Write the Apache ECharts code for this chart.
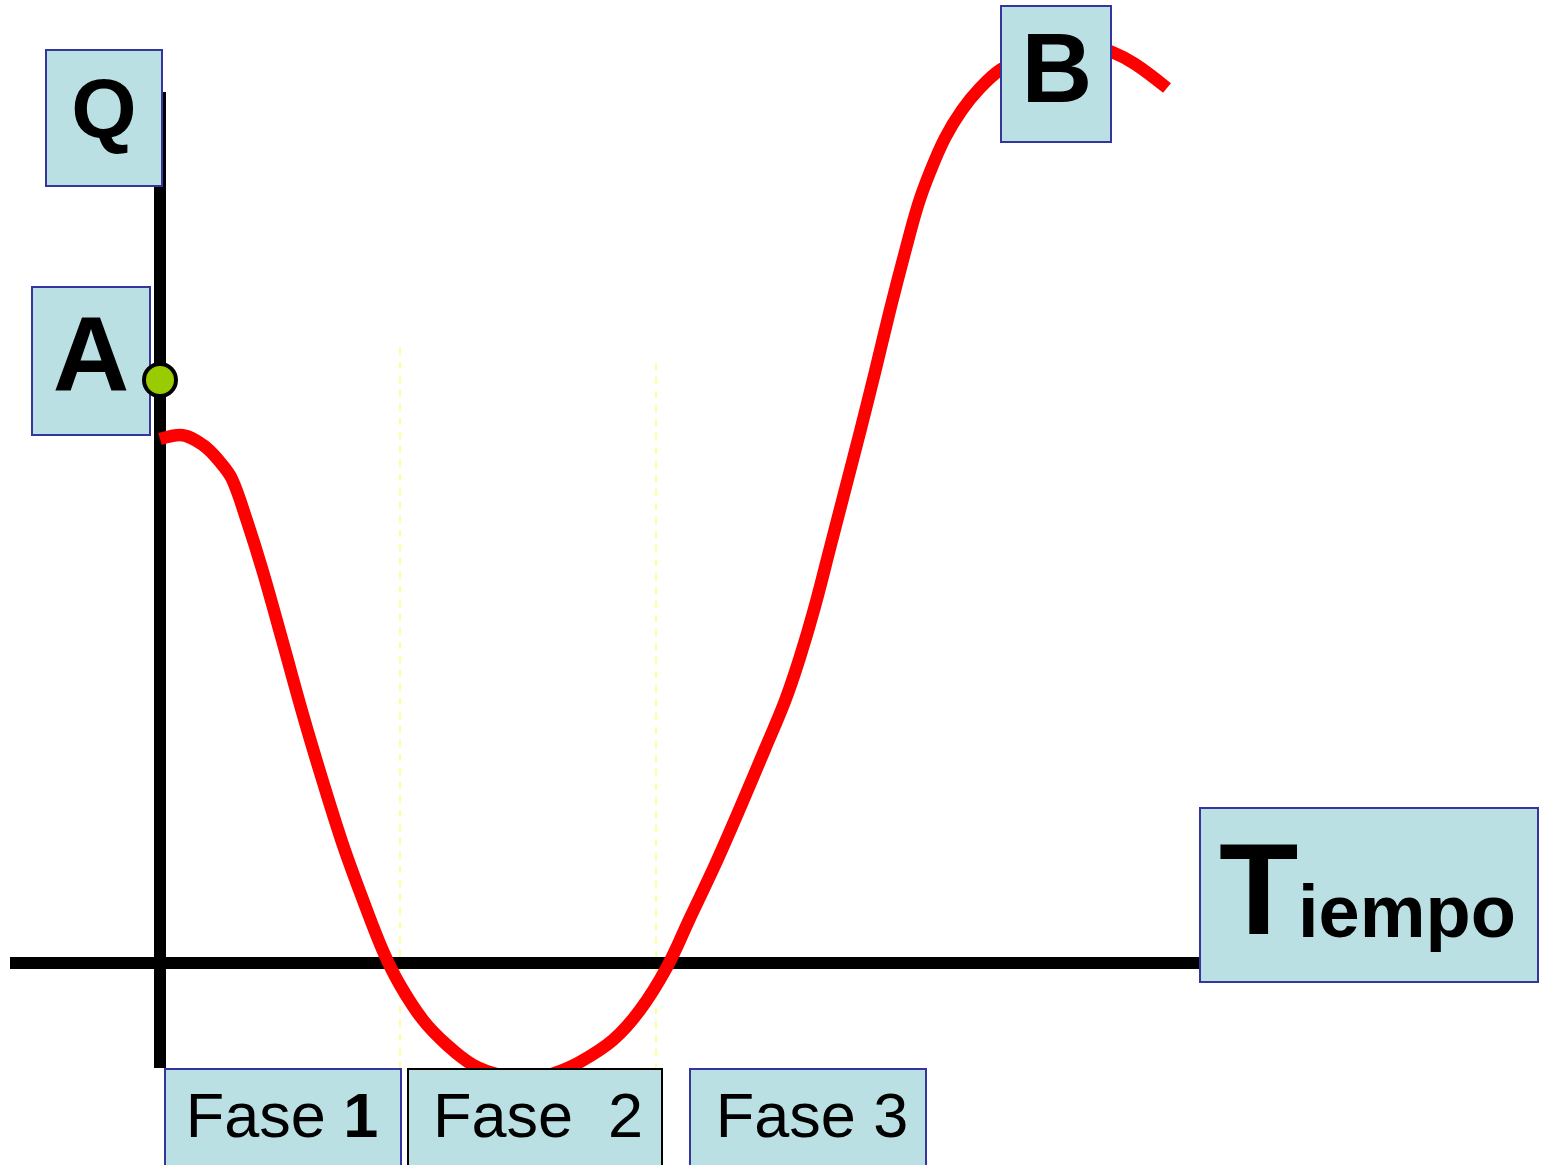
<!DOCTYPE html>
<html>
<head>
<meta charset="utf-8">
<script src="https://cdn.jsdelivr.net/npm/echarts@6/dist/echarts.min.js"></script>
<style>
  html, body { margin: 0; padding: 0; background: #fff; }
  #main { width: 1542px; height: 1165px; }
</style>
</head>
<body>
<div id="main"></div>
<script>
// curva Q(t) (t = tiempo, Q = cantidad)
const curveT = [0.00, 0.20, 0.43, 0.60, 0.72, 0.87, 1.03, 1.23, 1.43, 1.63, 1.83, 2.03, 2.23, 2.40, 2.63,
  2.87, 3.13, 3.40, 3.70, 3.95, 4.20, 4.53, 4.80, 5.07, 5.30, 5.55, 5.80, 6.05, 6.25, 6.40,
  6.55, 6.70, 6.85, 7.00, 7.15, 7.30, 7.45, 7.58, 7.70, 7.85, 8.02, 8.20, 8.40, 8.70,
  9.00, 9.30, 9.52, 9.75, 10.07];
const curveQ = [5.24, 5.28, 5.18, 5.01, 4.84, 4.42, 3.91, 3.20, 2.48, 1.81, 1.18, 0.63, 0.12, -0.22, -0.57,
  -0.82, -1.02, -1.12, -1.16, -1.10, -0.99, -0.77, -0.47, -0.04, 0.45, 0.98, 1.55, 2.14, 2.62, 3.06,
  3.57, 4.15, 4.73, 5.31, 5.91, 6.53, 7.11, 7.58, 7.91, 8.25, 8.53, 8.75, 8.93, 9.08,
  9.15, 9.17, 9.11, 8.99, 8.75];

// punto A
const pointA = [0, 5.83];

// ejes dibujados
const qAxisEnds = [8.71, -1.05];   // Q en t = 0
const tAxisEnds = [-1.5, 10.4];    // t en Q = 0

// limites de fase (lineas punteadas)
const phaseBounds = [2.40, 4.96];
const phaseTops = [6.15, 6.00];
const phaseBottom = -1.05;

const phaseLabels = ['{a|Fase }{b|1}', 'Fase  2', 'Fase 3'];

const curveData = curveT.map((t, i) => [t, curveQ[i]]);

const boxFill = '#BBE0E3';
const boxStroke = '#35359E';

function box(x, y, w, h, stroke) {
  return {
    type: 'rect', z: 100,
    shape: { x: x, y: y, width: w, height: h },
    style: { fill: boxFill, stroke: stroke || boxStroke, lineWidth: 2 }
  };
}
function label(text, x, y, size, extra) {
  return {
    type: 'text', z: 101, x: x, y: y,
    style: Object.assign({
      text: text, fill: '#000',
      font: 'bold ' + size + 'px "Liberation Sans", Arial, sans-serif',
      align: 'center', verticalAlign: 'middle'
    }, extra || {})
  };
}

const chart = echarts.init(document.getElementById('main'));

const phaseSeries = phaseBounds.map((t, i) => ({
  type: 'line', silent: true, symbol: 'none', z: 1,
  data: [[t, phaseTops[i]], [t, phaseBottom]],
  lineStyle: { color: '#FFFF99', width: 2, type: [7, 7] }
}));

const fontReg = '63px "Liberation Sans", Arial, sans-serif';

chart.setOption({
  animation: false,
  backgroundColor: '#fff',
  grid: { left: 10, right: 0, top: 0, bottom: 0 },
  xAxis: { type: 'value', min: -1.5, max: 13.82, show: false },
  yAxis: { type: 'value', min: -2.02, max: 9.63, show: false },
  series: phaseSeries.concat([
    {
      type: 'line', silent: true, symbol: 'none', z: 2,
      data: [[tAxisEnds[0], 0], [tAxisEnds[1], 0]],
      lineStyle: { color: '#000', width: 12 }
    },
    {
      type: 'line', silent: true, symbol: 'none', z: 2,
      data: [[0, qAxisEnds[0]], [0, qAxisEnds[1]]],
      lineStyle: { color: '#000', width: 12 }
    },
    {
      type: 'line', silent: true, symbol: 'none', z: 3, smooth: 0.35,
      data: curveData,
      lineStyle: { color: '#FF0000', width: 12.5, cap: 'butt' }
    },
    {
      type: 'scatter', silent: true, z: 110,
      data: [pointA], symbol: 'circle', symbolSize: 32,
      itemStyle: { color: '#99CC00', borderColor: '#000', borderWidth: 4, opacity: 1 }
    }
  ]),
  graphic: [
    box(46, 50, 116, 136), label('Q', 104, 115, 84),
    box(32, 287, 118, 148), label('A', 91, 362, 106),
    box(1001, 6, 110, 136), label('B', 1057, 75, 98),
    box(1200, 808, 338, 174),
    label('T', 1219, 898, 130, { align: 'left' }),
    label('iempo', 1298, 917, 74, { align: 'left' }),
    box(165, 1069, 236, 130),
    label(phaseLabels[0], 282, 1120, 63, {
      font: fontReg,
      rich: {
        a: { font: fontReg, fill: '#000' },
        b: { font: 'bold ' + fontReg, fill: '#000' }
      }
    }),
    box(408, 1069, 254, 130, '#000'),
    label(phaseLabels[1], 538, 1120, 63, { font: fontReg }),
    box(690, 1069, 236, 130),
    label(phaseLabels[2], 812, 1120, 63, { font: fontReg })
  ]
});
</script>
</body>
</html>
